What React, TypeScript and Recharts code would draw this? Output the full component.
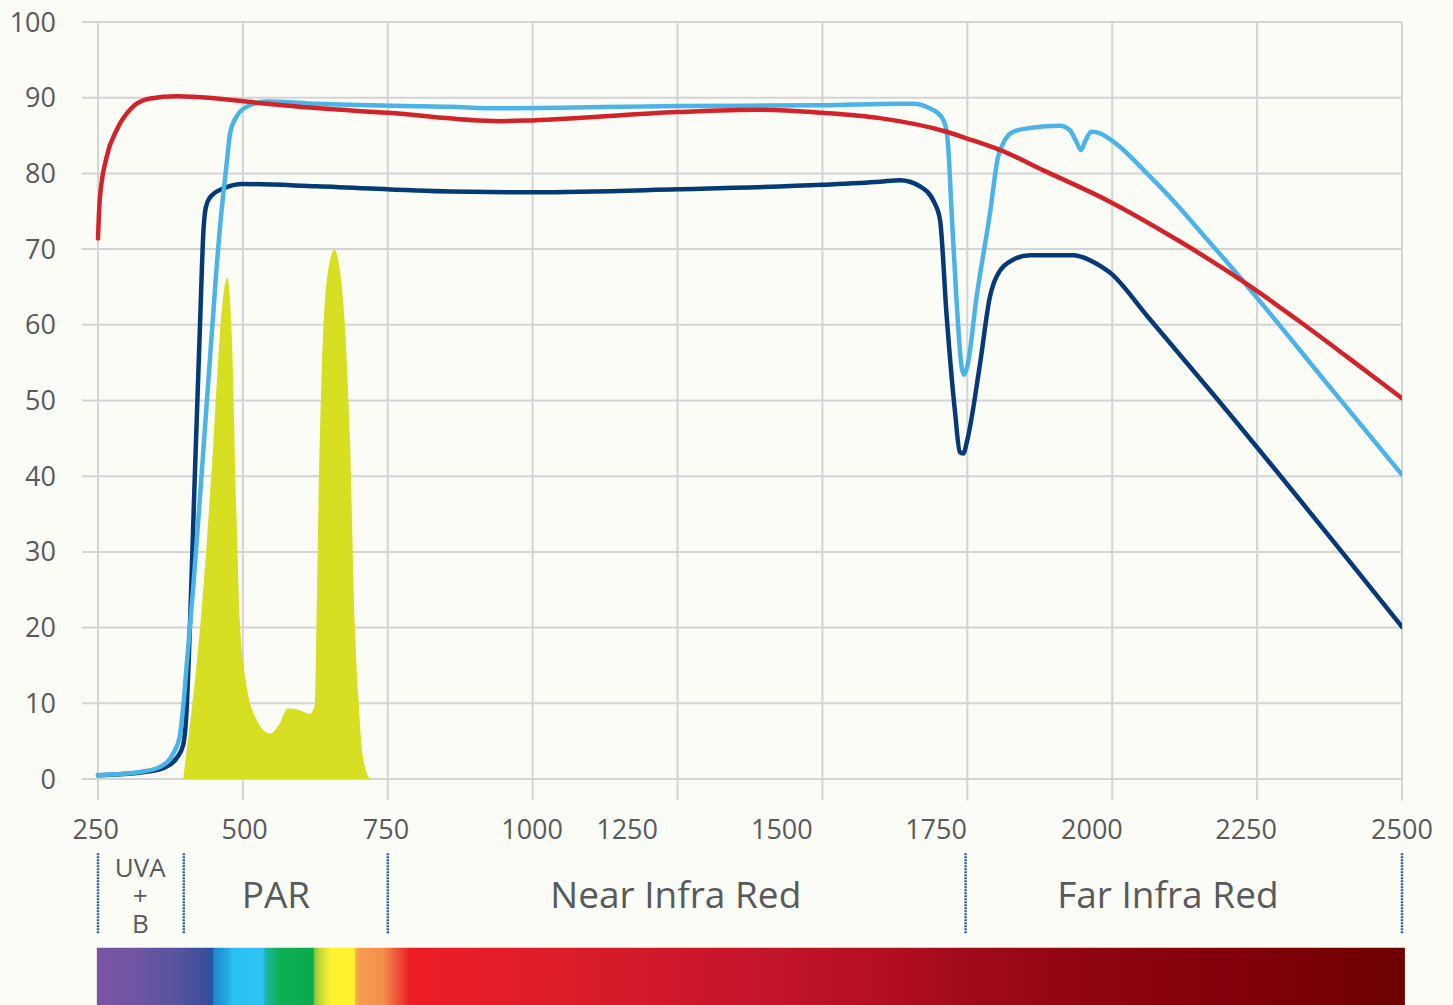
import React from 'react';
import {
  ComposedChart,
  Line,
  Area,
  XAxis,
  YAxis,
  CartesianGrid,
  ReferenceLine,
  ReferenceArea,
} from 'recharts';

type Pt = { nm: number; pct: number };
const p = (nm: number, pct: number): Pt => ({ nm, pct });

// Red curve
const redSeries: Pt[] = [
  p(250, 71.4), p(253, 76.5), p(265, 82.2), p(282, 85.7), p(310, 88.8), p(340, 89.9),
  p(386, 90.2), p(455, 89.9), p(541, 89.2), p(598, 88.8), p(750, 88.0), p(943, 86.9),
  p(1000, 87.0), p(1250, 88.1), p(1392, 88.4), p(1500, 88.0), p(1599, 87.3), p(1714, 85.5),
  p(1750, 84.6), p(1806, 83.1), p(1887, 80.2), p(1990, 76.5), p(2117, 71.0),
  p(2232, 65.4), p(2324, 60.4), p(2410, 55.5), p(2500, 50.3),
];

// Light blue curve
const lightBlueSeries: Pt[] = [
  p(250, 0.5), p(328, 1.0), p(357, 1.6), p(380, 3.4), p(391, 5.6), p(397, 9.5),
  p(403, 15), p(415, 26), p(430, 41.5), p(446, 58.5), p(460, 72.5), p(472, 81.3),
  p(478, 85.3), p(489, 87.5), p(512, 89.0), p(541, 89.5), p(627, 89.2), p(857, 88.8),
  p(943, 88.6), p(1250, 88.9), p(1500, 89.0), p(1634, 89.2), p(1657, 89.2), p(1685, 88.6),
  p(1705, 87.5), p(1714, 85.7), p(1717, 83.5), p(1723, 74.7), p(1731, 63.7), p(1740, 54.5),
  p(1744, 53.4), p(1750, 54.5), p(1766, 63.7), p(1789, 74.7), p(1803, 82.2), p(1812, 84.0),
  p(1829, 85.5), p(1858, 86.0), p(1910, 86.3), p(1927, 85.7), p(1938, 84.2), p(1946, 83.1),
  p(1953, 84.2), p(1964, 85.5), p(1979, 85.3), p(2002, 84.2), p(2065, 79.6), p(2117, 75.4),
  p(2151, 72.4), p(2209, 67.3), p(2255, 63.1), p(2370, 52.3), p(2500, 40.2),
];

// Navy curve
const navySeries: Pt[] = [
  p(250, 0.5), p(328, 0.9), p(365, 1.5), p(386, 2.8), p(397, 4.5), p(402, 8),
  p(409, 21), p(417, 40), p(426, 60), p(432, 72.5), p(436, 75.5), p(443, 76.8),
  p(466, 78.0), p(500, 78.6), p(627, 78.3), p(857, 77.6), p(1000, 77.5), p(1250, 77.9),
  p(1500, 78.5), p(1599, 78.9), p(1634, 79.1), p(1668, 78.3), p(1694, 76.0), p(1703, 73.8),
  p(1714, 61.5), p(1729, 48.3), p(1737, 43.2), p(1743, 43.0), p(1750, 44.8), p(1772, 54.9),
  p(1789, 63.7), p(1800, 66.3), p(1829, 68.6), p(1858, 69.2), p(1933, 69.2), p(1970, 68.2),
  p(1996, 66.9), p(2060, 61.2), p(2180, 50.3), p(2500, 20.1),
];

// Yellow PAR emission area
const parSeries: Pt[] = [
  p(397, 0), p(432, 25.4), p(449, 44.3), p(460, 58.4), p(473, 66.2), p(481, 58.4),
  p(489, 34.8), p(495, 20.6), p(504, 13.6), p(518, 8.8), p(547, 6.0), p(564, 7.4),
  p(577, 9.3), p(593, 9.2), p(616, 8.6), p(624, 9.8), p(627, 20.6), p(630, 34.7),
  p(636, 53.6), p(644, 65.4), p(658, 69.9), p(673, 63.1), p(685, 44.3), p(693, 20.6),
  p(699, 11.2), p(707, 3), p(719, 0),
];

const gridWavelengths = [250, 500, 750, 1000, 1250, 1500, 1750, 2000, 2250, 2500];
const yTicks = [0, 10, 20, 30, 40, 50, 60, 70, 80, 90, 100];
const xTickLabels = ['250', '500', '750', '1000', '1250', '1500', '1750', '2000', '2250', '2500'];
const xTickLabelAt = [246, 503, 747, 999, 1163, 1430, 1696, 1965, 2231, 2500];

const regionNames = [['UVA', '+', 'B'], ['PAR'], ['Near Infra Red'], ['Far Infra Red']];
const regionBounds = [250, 398, 750, 1747, 2500];
const regionLabelAt = [323, 557, 1247, 2096];

const spectrumNm = [
  248, 328, 386, 431, 447, 450, 473, 483, 535, 538, 552, 564, 621, 624, 635, 645, 654,
  692, 695, 702, 740, 747, 757, 768, 778, 788, 1066, 1397, 1634, 1751, 1979, 2238, 2505,
];
const spectrumColors = [
  '#7b53a3', '#6b55a2', '#5753a0', '#3f4f9d', '#27519f', '#2188cc', '#22a8e2', '#2bc1f1',
  '#2cc4f3', '#1db8b0', '#15b37a', '#0fae55', '#0aab4b', '#8cc640', '#c8dc3a', '#ebea33',
  '#fff22f', '#fff22f', '#f9ae4b', '#f69b4f', '#f5924c', '#f3804a', '#f16a3c', '#ef4f36',
  '#ee3830', '#ed1c24', '#db1c2a', '#c4142a', '#b00e20', '#a00a1a', '#8f0411', '#80000a',
  '#6d0000',
];

const BG = '#fbfcf5';
const GRID = '#d3d4d6';
const TEXT = '#58595b';
const FONT = "'Open Sans', 'Noto Sans', sans-serif";

const RegionLabel = (props: any) => {
  const { viewBox, lines, from, to, at } = props;
  if (!viewBox) return null;
  const { x, y, width } = viewBox;
  const cx = x + ((at - from) / (to - from)) * width;
  if (lines.length === 1) {
    return (
      <text x={cx} y={y + 55} textAnchor="middle" fill={TEXT} fontSize={37} fontFamily={FONT}>
        {lines[0]}
      </text>
    );
  }
  return (
    <g>
      {lines.map((t: string, i: number) => (
        <text key={i} x={cx} y={y + 24 + i * 28} textAnchor="middle" fill={TEXT} fontSize={26} fontFamily={FONT}>
          {t}
        </text>
      ))}
    </g>
  );
};

export default function App() {
  const spanNm = spectrumNm[spectrumNm.length - 1] - spectrumNm[0];
  return (
    <div
      style={{
        position: 'absolute',
        left: 0,
        top: 0,
        width: 1453,
        height: 1005,
        background: BG,
        fontFamily: FONT,
        overflow: 'hidden',
      }}
    >
      <svg width={0} height={0} style={{ position: 'absolute' }}>
        <defs>
          <linearGradient id="spectrum" x1="0" x2="1" y1="0" y2="0">
            {spectrumNm.map((nm, i) => (
              <stop key={i} offset={(nm - spectrumNm[0]) / spanNm} stopColor={spectrumColors[i]} />
            ))}
          </linearGradient>
        </defs>
      </svg>
      <ComposedChart width={1453} height={1005} margin={{ top: 22, right: 51, bottom: 176, left: 0 }}>
        <CartesianGrid
          stroke={GRID}
          strokeWidth={2}
          verticalValues={gridWavelengths}
          horizontalValues={yTicks}
        />
        <XAxis
          dataKey="nm"
          type="number"
          domain={[222.4, 2500]}
          allowDataOverflow
          ticks={xTickLabelAt}
          interval={0}
          tickFormatter={(v: number) => xTickLabels[xTickLabelAt.indexOf(v)]}
          tickLine={false}
          axisLine={false}
          tickSize={0}
          tickMargin={41}
          height={50}
          tick={{ fill: TEXT, fontSize: 27, fontFamily: FONT }}
        />
        <YAxis
          type="number"
          domain={[0, 100]}
          allowDataOverflow
          ticks={yTicks}
          interval={0}
          tickLine={false}
          axisLine={false}
          tickSize={0}
          tickMargin={26}
          width={82}
          tick={{ fill: TEXT, fontSize: 27, fontFamily: FONT }}
        />
        {gridWavelengths.map((v) => (
          <ReferenceLine
            key={'stub' + v}
            segment={[{ x: v, y: 0 }, { x: v, y: -2.8 }]}
            stroke={GRID}
            strokeWidth={2}
            ifOverflow="visible"
          />
        ))}
        <Area
          data={parSeries}
          dataKey="pct"
          type="monotone"
          fill="#d7df23"
          fillOpacity={1}
          stroke="none"
          isAnimationActive={false}
          dot={false}
          activeDot={false}
        />
        <Line
          data={navySeries}
          dataKey="pct"
          type="monotone"
          stroke="#063a76"
          strokeWidth={4.5}
          strokeLinecap="round"
          strokeLinejoin="round"
          dot={false}
          activeDot={false}
          isAnimationActive={false}
        />
        <Line
          data={lightBlueSeries}
          dataKey="pct"
          type="monotone"
          stroke="#4bb3e6"
          strokeWidth={4.5}
          strokeLinecap="round"
          strokeLinejoin="round"
          dot={false}
          activeDot={false}
          isAnimationActive={false}
        />
        <Line
          data={redSeries}
          dataKey="pct"
          type="monotone"
          stroke="#d2232a"
          strokeWidth={4.5}
          strokeLinecap="round"
          strokeLinejoin="round"
          dot={false}
          activeDot={false}
          isAnimationActive={false}
        />
        {regionBounds.map((v) => (
          <ReferenceLine
            key={'sep' + v}
            segment={[{ x: v, y: -9.8 }, { x: v, y: -20.4 }]}
            stroke="#2f5f96"
            strokeWidth={2.5}
            strokeDasharray="2 1"
            ifOverflow="visible"
          />
        ))}
        {regionNames.map((lines, i) => (
          <ReferenceArea
            key={'reg' + i}
            x1={regionBounds[i]}
            x2={regionBounds[i + 1]}
            y1={-9.8}
            y2={-20.4}
            ifOverflow="visible"
            fill="none"
            fillOpacity={0}
            stroke="none"
            label={(lp: any) => (
              <RegionLabel
                viewBox={lp.viewBox}
                lines={lines}
                from={regionBounds[i]}
                to={regionBounds[i + 1]}
                at={regionLabelAt[i]}
              />
            )}
          />
        ))}
        <ReferenceArea
          x1={spectrumNm[0]}
          x2={spectrumNm[spectrumNm.length - 1]}
          y1={-22.3}
          y2={-30}
          ifOverflow="visible"
          fill="url(#spectrum)"
          fillOpacity={1}
          stroke="none"
        />
      </ComposedChart>
    </div>
  );
}
